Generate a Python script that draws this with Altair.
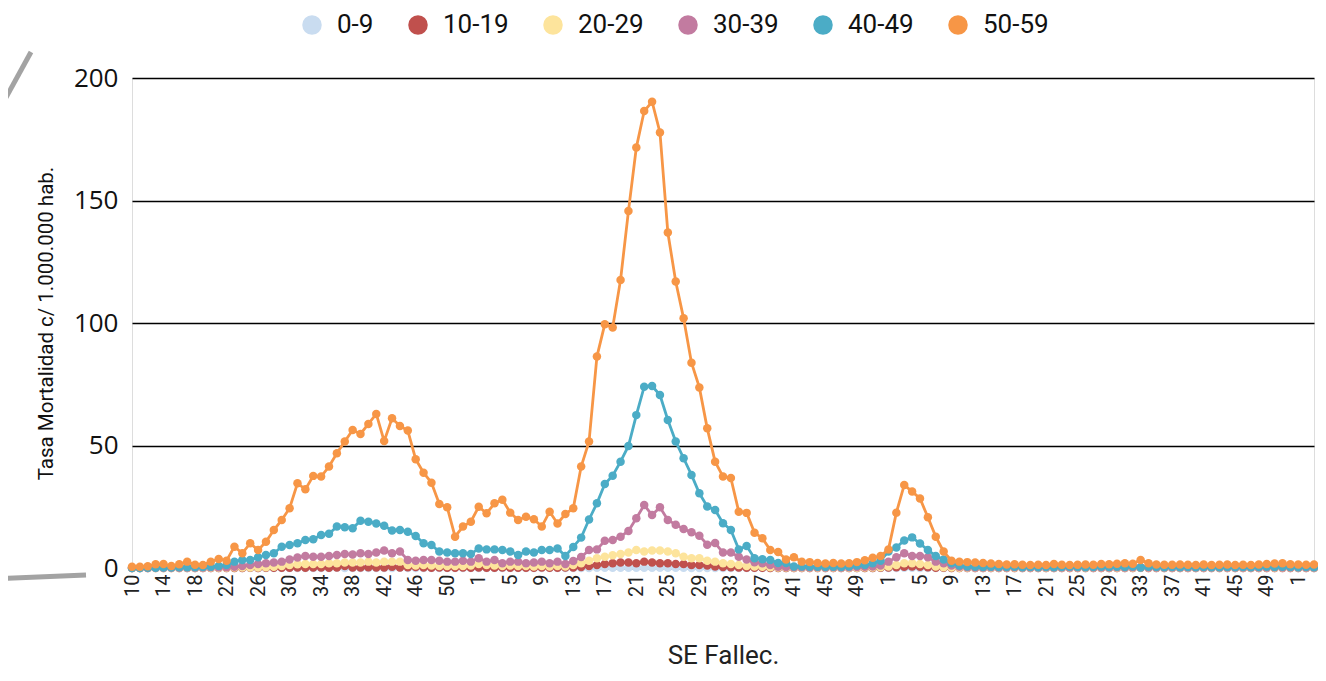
import altair as alt
import pandas as pd

# Epidemiological weeks (SE) shown on the x axis: 2020 wk10-53, 2021 wk1-52, 2022 wk1-52, 2023 wk1-3
se_2020 = list(range(10, 54))
se_2021 = list(range(1, 53))
se_2022 = list(range(1, 53))
se_2023 = [1, 2, 3]

groups = ["0-9", "10-19", "20-29", "30-39", "40-49", "50-59"]
colors = ["#c9dcf0", "#c0504d", "#fde49c", "#c27ba0", "#4bacc6", "#f79646"]

g0_9 = [
    0.0, 0.0, 0.0, 0.0, 0.0, 0.0, 0.0, 0.0, 0.0, 0.0,
    0.0, 0.0, 0.0, 0.0, 0.0, 0.0, 0.0, 0.0, 0.0, 0.0,
    0.0, 0.0, 0.0, 0.0, 0.0, 0.0, 0.1, 0.0, 0.0, 0.0,
    0.0, 0.0, 0.0, 0.0, 0.1, 0.0, 0.0, 0.0, 0.0, 0.0,
    0.0, 0.0, 0.0, 0.0, 0.0, 0.0, 0.0, 0.0, 0.0, 0.0,
    0.0, 0.0, 0.0, 0.0, 0.0, 0.0, 0.0, 0.0, 0.0, 0.1,
    0.1, 0.1, 0.1, 0.1, 0.1, 0.1, 0.1, 0.1, 0.1, 0.1,
    0.1, 0.0, 0.0, 0.0, 0.0, 0.0, 0.0, 0.0, 0.0, 0.0,
    0.0, 0.0, 0.0, 0.0, 0.0, 0.0, 0.0, 0.0, 0.0, 0.0,
    0.0, 0.0, 0.0, 0.0, 0.0, 0.0, 0.0, 0.0, 0.1, 0.1,
    0.0, 0.0, 0.0, 0.0, 0.0, 0.0, 0.0, 0.0, 0.0, 0.0,
    0.0, 0.0, 0.0, 0.0, 0.0, 0.0, 0.0, 0.0, 0.0, 0.0,
    0.0, 0.0, 0.0, 0.0, 0.0, 0.0, 0.0, 0.0, 0.0, 0.0,
    0.0, 0.0, 0.0, 0.0, 0.0, 0.0, 0.0, 0.0, 0.0, 0.0,
    0.0, 0.0, 0.0, 0.0, 0.0, 0.0, 0.0, 0.0, 0.0, 0.0,
    0.0,
]

g10_19 = [
    0.0, 0.0, 0.0, 0.0, 0.0, 0.0, 0.0, 0.0, 0.0, 0.0,
    0.0, 0.0, 0.0, 0.0, 0.0, 0.1, 0.0, 0.1, 0.1, 0.1,
    0.1, 0.2, 0.1, 0.2, 0.2, 0.1, 0.2, 0.8, 0.2, 0.2,
    0.3, 0.2, 0.2, 0.5, 0.2, 0.3, 0.4, 0.2, 0.1, 0.2,
    0.1, 0.1, 0.2, 0.1, 0.2, 0.1, 0.1, 0.2, 0.1, 0.1,
    0.1, 0.1, 0.2, 0.1, 0.1, 0.2, 0.2, 0.4, 0.8, 1.2,
    1.6, 1.9, 2.2, 2.2, 1.9, 2.6, 2.2, 1.9, 1.9, 1.6,
    1.6, 1.2, 1.2, 1.0, 0.6, 0.4, 0.3, 0.2, 0.1, 0.1,
    0.1, 0.0, 0.0, 0.0, 0.0, 0.0, 0.0, 0.0, 0.0, 0.0,
    0.0, 0.0, 0.0, 0.0, 0.0, 0.1, 0.2, 0.3, 0.5, 0.6,
    0.5, 0.3, 0.1, 0.1, 0.0, 0.0, 0.0, 0.0, 0.0, 0.0,
    0.0, 0.0, 0.0, 0.0, 0.0, 0.0, 0.0, 0.0, 0.0, 0.0,
    0.0, 0.0, 0.0, 0.0, 0.0, 0.0, 0.0, 0.0, 0.1, 0.0,
    0.0, 0.0, 0.0, 0.0, 0.0, 0.0, 0.0, 0.0, 0.0, 0.0,
    0.0, 0.0, 0.0, 0.0, 0.0, 0.0, 0.0, 0.0, 0.0, 0.0,
    0.0,
]

g20_29 = [
    0.0, 0.0, 0.0, 0.0, 0.0, 0.0, 0.0, 0.1, 0.1, 0.1,
    0.1, 0.1, 0.1, 0.2, 0.2, 0.2, 0.2, 0.3, 0.5, 0.8,
    1.2, 1.5, 1.6, 1.6, 1.6, 1.9, 1.9, 2.2, 2.2, 2.2,
    2.6, 2.2, 2.6, 2.6, 2.6, 1.2, 1.0, 1.2, 1.0, 0.8,
    0.8, 0.8, 0.8, 1.0, 1.6, 1.2, 1.0, 0.8, 1.0, 0.8,
    0.8, 0.6, 0.8, 0.6, 0.8, 0.6, 1.2, 1.9, 3.0, 4.0,
    4.6, 5.2, 5.7, 6.3, 7.3, 6.7, 7.1, 7.1, 6.7, 6.0,
    4.6, 4.0, 4.0, 3.0, 2.6, 1.9, 1.6, 1.2, 0.8, 0.6,
    0.5, 0.3, 0.2, 0.2, 0.1, 0.1, 0.1, 0.1, 0.1, 0.1,
    0.1, 0.1, 0.1, 0.2, 0.2, 0.3, 0.6, 1.2, 1.9, 1.9,
    1.6, 1.2, 0.6, 0.3, 0.2, 0.1, 0.1, 0.1, 0.1, 0.1,
    0.1, 0.1, 0.1, 0.1, 0.1, 0.1, 0.1, 0.1, 0.1, 0.1,
    0.1, 0.1, 0.1, 0.1, 0.1, 0.1, 0.1, 0.1, 0.2, 0.1,
    0.1, 0.1, 0.1, 0.1, 0.1, 0.1, 0.1, 0.1, 0.1, 0.1,
    0.1, 0.1, 0.1, 0.1, 0.1, 0.1, 0.1, 0.1, 0.1, 0.1,
    0.1,
]

g30_39 = [
    0.0, 0.0, 0.0, 0.1, 0.1, 0.1, 0.1, 0.2, 0.2, 0.2,
    0.3, 0.3, 0.3, 0.5, 0.8, 1.2, 1.6, 1.9, 2.2, 2.6,
    3.5, 4.3, 4.9, 4.6, 4.6, 4.9, 5.3, 5.7, 5.5, 6.0,
    5.7, 6.3, 7.1, 6.0, 6.7, 3.3, 3.0, 3.3, 3.3, 3.0,
    2.6, 2.6, 3.0, 2.6, 4.0, 2.6, 3.3, 1.9, 2.6, 2.6,
    1.9, 2.2, 2.6, 1.9, 2.6, 1.6, 2.9, 4.5, 7.3, 7.6,
    11.1, 11.4, 12.8, 15.1, 20.3, 25.7, 21.6, 24.8, 19.6, 17.7,
    15.9, 14.6, 13.2, 9.5, 10.2, 6.3, 6.3, 4.6, 3.5, 2.3,
    1.9, 1.2, 0.5, 0.4, 0.3, 0.3, 0.2, 0.3, 0.2, 0.3,
    0.2, 0.3, 0.4, 0.5, 0.6, 1.0, 2.6, 4.4, 6.0, 4.9,
    4.9, 4.4, 2.6, 1.9, 1.0, 0.5, 0.3, 0.2, 0.2, 0.3,
    0.2, 0.2, 0.3, 0.2, 0.2, 0.2, 0.3, 0.2, 0.2, 0.2,
    0.2, 0.3, 0.2, 0.2, 0.2, 0.3, 0.2, 0.3, 0.3, 0.2,
    0.2, 0.2, 0.2, 0.2, 0.2, 0.2, 0.2, 0.2, 0.2, 0.2,
    0.2, 0.2, 0.2, 0.2, 0.2, 0.3, 0.2, 0.2, 0.2, 0.2,
    0.2,
]

g40_49 = [
    0.0, 0.0, 0.1, 0.1, 0.2, 0.2, 0.3, 0.3, 0.3, 0.4,
    0.5, 0.8, 1.2, 2.6, 3.3, 3.3, 4.4, 5.3, 6.0, 8.7,
    9.4, 10.1, 11.4, 11.7, 13.5, 14.0, 16.9, 16.6, 16.2, 19.3,
    18.9, 18.2, 17.2, 15.3, 15.5, 14.8, 13.1, 10.1, 9.4, 6.7,
    6.3, 6.0, 6.0, 5.7, 8.0, 7.6, 7.6, 7.3, 6.7, 5.3,
    6.7, 6.3, 7.3, 7.3, 8.0, 4.9, 8.6, 12.4, 19.8, 26.4,
    34.3, 37.7, 43.4, 49.8, 62.4, 74.0, 74.3, 70.6, 60.4, 51.6,
    44.8, 38.0, 30.5, 25.1, 23.7, 18.3, 15.5, 7.6, 9.0, 4.0,
    3.6, 3.3, 2.0, 2.0, 0.6, 0.6, 0.5, 0.5, 0.4, 0.5,
    0.4, 0.6, 1.0, 1.2, 1.9, 3.0, 6.7, 8.4, 11.2, 12.5,
    10.0, 7.3, 4.9, 3.5, 1.9, 1.0, 0.6, 0.5, 0.4, 0.5,
    0.4, 0.4, 0.5, 0.3, 0.4, 0.3, 0.4, 0.3, 0.4, 0.5,
    0.4, 0.3, 0.4, 0.5, 0.4, 0.5, 0.4, 0.6, 0.2, 0.5,
    0.4, 0.3, 0.4, 0.3, 0.4, 0.3, 0.4, 0.3, 0.3, 0.4,
    0.3, 0.4, 0.3, 0.4, 0.5, 0.4, 0.5, 0.4, 0.3, 0.4,
    0.3,
]

g50_59 = [
    0.5, 0.5, 0.7, 1.5, 1.6, 0.8, 1.5, 2.6, 1.3, 1.2,
    2.6, 3.7, 3.0, 8.7, 6.0, 10.1, 7.3, 10.7, 15.5, 19.6,
    24.4, 34.6, 32.1, 37.6, 37.3, 41.4, 46.8, 51.6, 56.3, 54.7,
    58.8, 62.9, 51.8, 61.1, 58.0, 56.1, 44.4, 38.9, 34.8, 26.1,
    24.8, 12.8, 16.9, 18.9, 25.0, 22.3, 26.4, 27.9, 22.6, 19.6,
    20.9, 19.9, 16.9, 23.0, 18.2, 22.0, 24.4, 41.4, 51.6, 86.3,
    99.5, 98.2, 117.6, 145.7, 171.6, 186.5, 190.3, 177.8, 136.9, 116.9,
    101.9, 83.8, 73.7, 57.0, 43.4, 37.3, 36.7, 23.0, 22.5, 14.4,
    12.1, 7.3, 6.5, 3.5, 4.4, 2.6, 2.4, 2.0, 1.8, 2.0,
    1.8, 1.9, 2.4, 3.2, 4.2, 4.9, 7.6, 22.6, 33.9, 31.2,
    28.4, 20.7, 12.8, 6.7, 3.0, 2.6, 2.4, 2.2, 2.0, 1.8,
    1.6, 1.4, 1.5, 1.3, 1.2, 1.3, 1.2, 1.6, 1.3, 1.2,
    1.3, 1.4, 1.3, 1.6, 1.5, 1.7, 1.9, 1.7, 3.3, 1.9,
    1.4, 1.3, 1.3, 1.4, 1.3, 1.2, 1.4, 1.2, 1.3, 1.4,
    1.2, 1.3, 1.2, 1.4, 1.6, 1.8, 1.9, 1.5, 1.4, 1.3,
    1.4,
]

series = [g0_9, g10_19, g20_29, g30_39, g40_49, g50_59]

keys = ([f"2020-{w}" for w in se_2020] + [f"2021-{w}" for w in se_2021]
        + [f"2022-{w}" for w in se_2022] + [f"2023-{w}" for w in se_2023])
tick_keys = keys[::4]

rows = []
for g, vals in zip(groups, series):
    for k, v in zip(keys, vals):
        rows.append({"se": k, "grupo": g, "tasa": v})
df = pd.DataFrame(rows)

x_enc = alt.X(
    "se:O", sort=keys,
    scale=alt.Scale(type="point", padding=0),
    axis=alt.Axis(
        title="SE Fallec.", values=tick_keys, labelExpr="split(datum.value, '-')[1]",
        labelAngle=270, labelFont="Roboto", labelFontSize=20, labelColor="#222222",
        labelPadding=6, ticks=False, domain=True, domainColor="#8a8a8a", domainWidth=1.5,
        grid=False, minExtent=30, maxExtent=30, titlePadding=44,
        titleFont="Roboto", titleFontSize=26, titleFontWeight="normal", titleColor="#222222",
        labelOverlap=False,
    ),
)
y_enc = alt.Y(
    "tasa:Q",
    scale=alt.Scale(domain=[0, 200], nice=False),
    axis=alt.Axis(
        title="Tasa Mortalidad c/ 1.000.000 hab.", values=[0, 50, 100, 150, 200],
        labelFont="Open Sans", labelFontSize=26, labelColor="#111111", labelPadding=14,
        ticks=False, domain=False, grid=True, gridColor="#000000", gridWidth=1.5,
        minExtent=62, maxExtent=62, titlePadding=14,
        titleFont="Roboto", titleFontSize=20.5, titleFontWeight="normal", titleColor="#111111",
    ),
)

# grey decorative strokes at the left edge of the original picture
deco = pd.DataFrame({"d": [0]})
deco_top = alt.Chart(deco).mark_rule(color="#a3a3a3", strokeWidth=5).encode(
    x=alt.value(-101), x2=alt.value(-140), y=alt.value(-26), y2=alt.value(45)
)
deco_bottom = alt.Chart(deco).mark_rule(color="#a3a3a3", strokeWidth=5).encode(
    x=alt.value(-140), x2=alt.value(-46), y=alt.value(501), y2=alt.value(497)
)

layers = [deco_top, deco_bottom]
for g, c in zip(groups, colors):
    base = alt.Chart(df).transform_filter(alt.datum.grupo == g)
    line = base.mark_line(color=c, strokeWidth=2.8).encode(x=x_enc, y=y_enc)
    pts = base.mark_circle(size=72, opacity=1).encode(
        x=x_enc, y=y_enc,
        color=alt.Color(
            "grupo:N",
            scale=alt.Scale(domain=groups, range=colors),
            legend=alt.Legend(
                title=None, orient="none", direction="horizontal",
                legendX=167, legendY=-66,
                symbolType="circle", symbolSize=380, symbolStrokeWidth=0, symbolOpacity=1,
                labelFont="Roboto", labelFontSize=26, labelColor="#111111",
                labelOffset=12, columnPadding=31,
            ),
        ),
    )
    layers += [line, pts]

chart = alt.layer(*layers).properties(
    width=1182, height=490,
    autosize=alt.AutoSizeParams(type="none"),
    padding={"left": 124, "top": 70, "right": 4, "bottom": 105},
).configure_view(stroke=None).configure(background="white")

chart.save("out.html", embed_options={"renderer": "svg", "actions": False})
